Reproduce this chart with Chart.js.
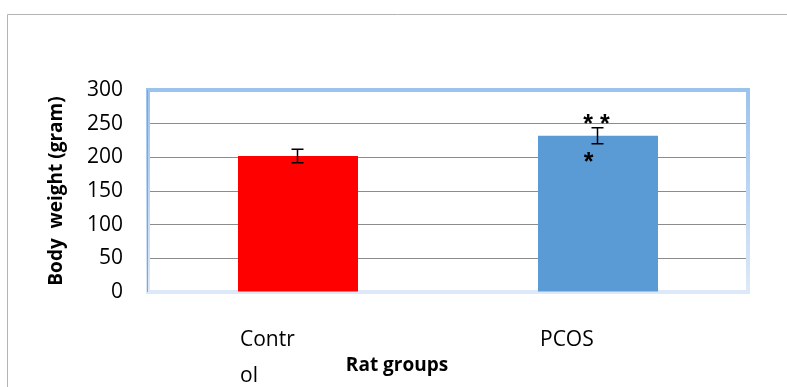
<!DOCTYPE html>
<html>
<head>
<meta charset="utf-8">
<script src="https://cdn.jsdelivr.net/npm/chart.js@4"></script>
<style>
  html, body { margin: 0; padding: 0; background: #fff; }
  #wrap { width: 787px; height: 387px; }
</style>
</head>
<body>
<div id="wrap"><canvas id="chart" width="787" height="387"></canvas></div>
<script>
// data
const groups = ["Control", "PCOS"]
const weights = [202, 232]
const errors = [10, 12]
const stars = ["", "* *|*"]   // above | below the error bar
const yTicks = [0, 50, 100, 150, 200, 250, 300]

const barColors = ["#ff0000", "#5b9bd5"]
const FONT = "'Open Sans', 'Liberation Sans', sans-serif"

// wraps labels the way the narrow text box did
function wrap(label) {
  const out = []
  for (let i = 0; i < label.length; i += 5) out.push(label.slice(i, i + 5))
  return out
}

// -----------------------------
// Plugins
// -----------------------------
const outerFrame = {
  id: "outerFrame",
  beforeDraw(chart) {
    const ctx = chart.ctx
    ctx.save()
    ctx.strokeStyle = "#b4b4b4"
    ctx.lineWidth = 1
    ctx.beginPath()
    ctx.moveTo(7.5, chart.height)
    ctx.lineTo(7.5, 14.5)
    ctx.lineTo(chart.width, 14.5)
    ctx.stroke()
    ctx.restore()
  }
}

const plotFrame = {
  id: "plotFrame",
  beforeDatasetsDraw(chart) {
    const { ctx, chartArea: a } = chart
    ctx.save()
    const g = ctx.createLinearGradient(0, a.top, 0, a.bottom)
    g.addColorStop(0, "#9cc3ee")
    g.addColorStop(1, "#dde9f8")
    ctx.strokeStyle = g
    ctx.lineWidth = 4
    ctx.strokeRect(a.left, a.top, a.right - a.left, a.bottom - a.top)
    ctx.strokeStyle = "#a0a0a0"
    ctx.lineWidth = 1
    ctx.beginPath()
    ctx.moveTo(a.left - 0.5, a.top)
    ctx.lineTo(a.left - 0.5, a.bottom)
    ctx.stroke()
    ctx.restore()
  }
}

const errorBars = {
  id: "errorBars",
  afterDatasetsDraw(chart) {
    const ctx = chart.ctx
    const x = chart.scales.x
    const y = chart.scales.y
    ctx.save()
    ctx.strokeStyle = "#000"
    ctx.fillStyle = "#000"
    ctx.lineWidth = 1.5
    weights.forEach((v, i) => {
      const cx = Math.round(x.getPixelForValue(i)) - 0.5
      const top = y.getPixelForValue(v + errors[i])
      const bot = y.getPixelForValue(v - errors[i])
      ctx.beginPath()
      ctx.moveTo(cx, top); ctx.lineTo(cx, bot)
      ctx.moveTo(cx - 6, top); ctx.lineTo(cx + 6, top)
      ctx.moveTo(cx - 6, bot); ctx.lineTo(cx + 6, bot)
      ctx.stroke()

      if (!stars[i]) return
      const [above, below] = stars[i].split("|")
      ctx.font = "bold 25px 'Liberation Sans', sans-serif"
      ctx.textAlign = "center"
      ctx.textBaseline = "alphabetic"
      ctx.fillText(above, cx - 1, top + 4)
      ctx.fillText(below, cx - 9, bot + 26)
    })

    // x axis title, sits left of centre in the original
    ctx.font = "bold 19px " + FONT
    ctx.textAlign = "center"
    ctx.textBaseline = "middle"
    ctx.fillText("Rat groups", 397, 366)
    ctx.restore()
  }
}

// -----------------------------
// Chart
// -----------------------------
new Chart(document.getElementById("chart"), {
  type: "bar",
  data: {
    labels: groups,
    datasets: [{
      data: weights,
      backgroundColor: barColors,
      borderWidth: 0,
      barPercentage: 0.4,
      categoryPercentage: 1
    }]
  },
  options: {
    responsive: false,
    animation: false,
    layout: { padding: { left: 0, right: 39, top: 90, bottom: 0 } },
    plugins: { legend: { display: false }, tooltip: { enabled: false } },
    scales: {
      x: {
        afterFit: s => { s.height = 95 },
        grid: { display: false, drawTicks: false },
        border: { display: false },
        ticks: {
          color: "#000",
          font: { family: FONT, size: 21, lineHeight: 1.7 },
          padding: 30,
          align: "start",
          labelOffset: -58,
          maxRotation: 0,
          autoSkip: false,
          callback: (v, i) => wrap(groups[i])
        }
      },
      y: {
        min: 0,
        max: 300,
        afterFit: s => { s.width = 148 },
        afterBuildTicks: s => { s.ticks = yTicks.map(v => ({ value: v })) },
        grid: {
          drawTicks: false,
          lineWidth: 1,
          color: c => (c.tick.value === 0 || c.tick.value === 300) ? "rgba(0,0,0,0)" : "#8c8c8c"
        },
        border: { display: false },
        ticks: {
          color: "#000",
          font: { family: FONT, size: 21 },
          padding: 25
        },
        title: {
          display: true,
          text: "Body  weight (gram)",
          color: "#000",
          font: { family: FONT, size: 19, weight: "bold" },
          padding: { top: 45, bottom: 0 }
        }
      }
    }
  },
  plugins: [outerFrame, plotFrame, errorBars]
})
</script>
</body>
</html>
